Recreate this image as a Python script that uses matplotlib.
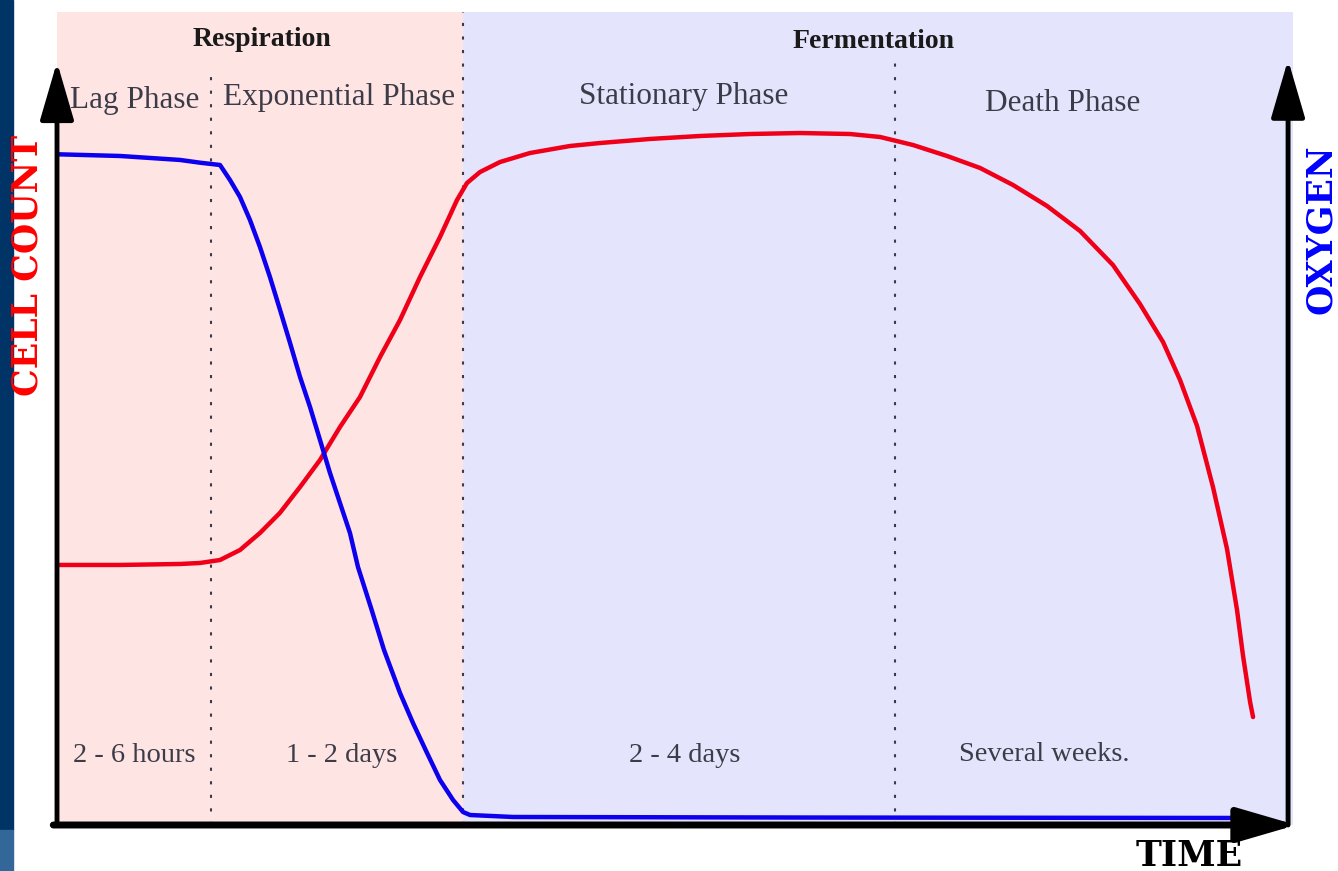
import matplotlib
matplotlib.use("Agg")
import matplotlib.pyplot as plt
from matplotlib.patches import Rectangle

# ---------------- data (time in arbitrary units 0-100, level 0-100) ----------------
phase_bounds = [12.5, 32.9, 68.0]          # lag|exp, exp|stationary, stationary|death
phase_names = ["Lag Phase", "Exponential Phase", "Stationary Phase", "Death Phase"]
phase_x = [6.3, 22.9, 50.8, 81.6]
phase_y = [95.0, 95.3, 95.5, 94.6]
duration_names = ["2 - 6 hours", "1 - 2 days", "2 - 4 days", "Several weeks."]
duration_x = [6.3, 23.1, 50.9, 80.1]
duration_y = [9.1, 9.1, 9.1, 9.3]
regime_names = ["Respiration", "Fermentation"]
regime_x = [16.6, 66.2]
regime_y = [103.0, 102.7]

cell_t = [0.1, 5.11, 9.98, 11.60, 13.22, 14.84, 16.46, 18.07, 19.71, 21.33, 22.95,
          24.57, 26.20, 27.82, 29.44, 31.06, 32.44, 33.25, 34.31, 35.93, 38.36,
          41.61, 44.04, 48.09, 52.15, 56.20, 60.26, 64.31, 66.75, 69.42, 72.18,
          74.86, 77.53, 80.29, 82.97, 85.64, 87.83, 89.70, 91.08, 92.46, 93.75,
          94.89, 95.70, 96.19, 96.76, 97.00]
cell_count = [34.08, 34.08, 34.21, 34.34, 34.73, 36.04, 38.27, 40.89, 44.30, 47.84,
              52.16, 56.09, 61.34, 66.19, 71.82, 77.06, 81.91, 84.14, 85.58, 86.89,
              88.07, 88.99, 89.38, 89.91, 90.30, 90.56, 90.69, 90.56, 90.17, 89.12,
              87.68, 86.11, 83.88, 81.13, 77.85, 73.39, 68.28, 63.30, 58.32, 52.29,
              44.30, 36.17, 28.18, 22.15, 16.12, 14.15]

oxy_t = [0.1, 5.11, 9.98, 11.60, 13.22, 14.03, 14.84, 15.65, 16.46, 17.27, 18.09,
         18.90, 19.71, 20.52, 21.33, 22.14, 22.95, 23.76, 24.41, 25.47, 26.52,
         27.82, 28.87, 30.01, 31.06, 32.12, 32.93, 33.50, 36.98, 60.26, 96.76]
oxygen = [87.9, 87.68, 87.16, 86.80, 86.50, 84.53, 82.31, 79.29, 75.75, 71.82, 67.50,
          63.17, 58.72, 54.78, 50.46, 46.13, 42.20, 38.27, 33.81, 28.44, 22.94,
          17.30, 13.37, 9.44, 5.90, 3.28, 1.70, 1.31, 1.05, 0.98, 0.92]

# ---------------- figure ----------------
W, H = 1338, 871
fig = plt.figure(figsize=(W / 100, H / 100), dpi=100)
fig.patch.set_facecolor("white")

# left blue strip
fig.patches.append(Rectangle((0, (871 - 830) / H), 13 / W, 830 / H,
                             transform=fig.transFigure, color="#003366", zorder=0))
fig.patches.append(Rectangle((0, 0), 13 / W, (871 - 830) / H,
                             transform=fig.transFigure, color="#336699", zorder=0))

ax = fig.add_axes([57 / W, (H - 825) / H, (1293 - 57) / W, (825 - 12) / H])
XMAX, YMAX = 100.24, 106.55
ax.set_xlim(0, XMAX)
ax.set_ylim(0, YMAX)
ax.axis("off")

pink = "#ffe4e4"
lav = "#e4e4fd"
ax.axvspan(0, phase_bounds[1], color=pink, zorder=0, lw=0)
ax.axvspan(phase_bounds[1], XMAX, color=lav, zorder=0, lw=0)

# dotted phase separators
dot_style = dict(color="#3a3a4a", lw=1.5, linestyle=(0, (1.5, 5)), zorder=1)
ax.plot([phase_bounds[0]] * 2, [0, 98.9], **dot_style)
ax.plot([phase_bounds[1]] * 2, [0, YMAX], **dot_style)
ax.plot([phase_bounds[2]] * 2, [0, 100.5], **dot_style)

# curves
ax.plot(cell_t, cell_count, color="#f00018", lw=3.2, zorder=3,
        solid_joinstyle="round", solid_capstyle="round")
ax.plot(oxy_t, oxygen, color="#0c00ee", lw=3.2, zorder=3,
        solid_joinstyle="round", solid_capstyle="round")

# axes with arrows
arrow = dict(arrowstyle="-|>,head_length=3.6,head_width=1.05", lw=3.5,
             color="black", shrinkA=0, shrinkB=0, mutation_scale=10)
ax.annotate("", xy=(0, 100.0), xytext=(0, 0), arrowprops=arrow,
            annotation_clip=False, zorder=5)
ax.annotate("", xy=(99.84, 100.3), xytext=(99.84, 0), arrowprops=arrow,
            annotation_clip=False, zorder=5)
ax.annotate("", xy=(100.5, 0.0), xytext=(-0.3, 0.0),
            arrowprops=dict(arrow, lw=5), annotation_clip=False, zorder=6)

serif = "Liberation Serif"
for name, x, y in zip(regime_names, regime_x, regime_y):
    ax.text(x, y, name, family=serif, weight="bold", fontsize=20,
            color="#1a1a1a", ha="center", va="center", zorder=4)
for name, x, y in zip(phase_names, phase_x, phase_y):
    ax.text(x, y, name, family=serif, fontsize=22.5, color="#3c3c48",
            ha="center", va="center", zorder=4)
for name, x, y in zip(duration_names, duration_x, duration_y):
    ax.text(x, y, name, family=serif, fontsize=20.5, color="#3c3c48",
            ha="center", va="center", zorder=4)

# axis titles
fig.text(28 / W, 1 - 265 / H, "CELL COUNT", family="DejaVu Serif", weight="bold",
         fontsize=25, color="#ff0000", rotation=90, ha="center", va="center")
fig.text(1321 / W, 1 - 229 / H, "OXYGEN", family="DejaVu Serif", weight="bold",
         fontsize=25, color="#0000ff", rotation=90, ha="center", va="center")
fig.text(1189 / W, 1 - 856 / H, "TIME", family="DejaVu Serif", weight="bold",
         fontsize=25, color="black", ha="center", va="center")

fig.savefig("out.png", dpi=100, facecolor="white")
